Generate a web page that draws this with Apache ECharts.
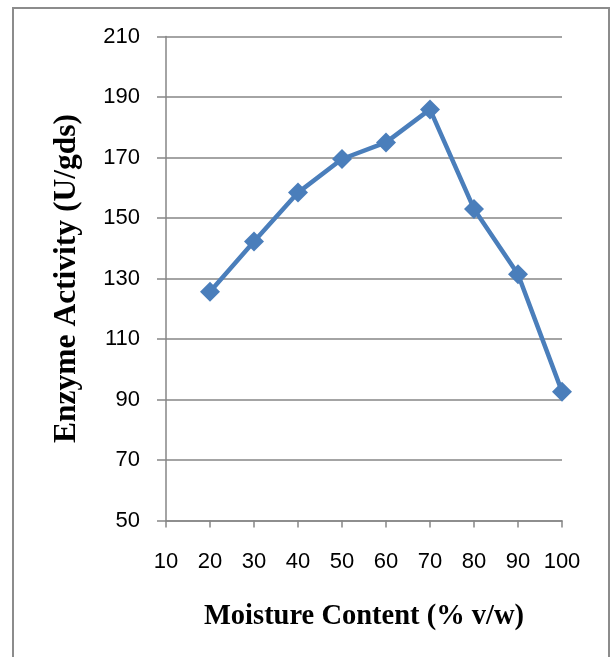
<!DOCTYPE html>
<html>
<head>
<meta charset="utf-8">
<script src="https://cdn.jsdelivr.net/npm/echarts@6/dist/echarts.min.js"></script>
<style>html,body{margin:0;padding:0;background:#fff}#c{width:612px;height:657px}</style>
</head>
<body>
<div id="c"></div>
<script>
const moisture = [20, 30, 40, 50, 60, 70, 80, 90, 100];
const activity = [125.6, 142.2, 158.4, 169.5, 175.0, 185.9, 153.0, 131.4, 92.6];
const xTitle = 'Moisture Content (% v/w)';
const yTitle = 'Enzyme Activity (U/gds)';

const chart = echarts.init(document.getElementById('c'), null, {renderer: 'canvas'});
chart.setOption({
  animation: false,
  backgroundColor: '#fff',
  graphic: [{
    type: 'rect', shape: {x: 13, y: 8, width: 596, height: 670},
    style: {fill: 'none', stroke: '#8c8c8c', lineWidth: 2}
  }],
  grid: {left: 166, right: 50, top: 36.5, bottom: 136.5},
  xAxis: {
    type: 'value', min: 10, max: 100, interval: 10,
    name: xTitle, nameLocation: 'middle', nameGap: 82,
    nameTextStyle: {fontFamily: 'Liberation Serif', fontWeight: 'bold', fontSize: 28.5, color: '#000'},
    axisLine: {lineStyle: {color: '#868686', width: 1.5}},
    axisTick: {show: true, length: 7, lineStyle: {color: '#868686', width: 1.5}},
    axisLabel: {fontFamily: 'Liberation Sans', fontSize: 22, color: '#000', margin: 30},
    splitLine: {show: false}
  },
  yAxis: {
    type: 'value', min: 50, max: 210, interval: 20,
    name: yTitle, nameLocation: 'middle', nameGap: 83, nameRotate: 90,
    nameTextStyle: {fontFamily: 'Liberation Serif', fontWeight: 'bold', fontSize: 31.5, color: '#000'},
    axisLine: {show: true, lineStyle: {color: '#868686', width: 1.5}},
    axisTick: {show: true, length: 9, lineStyle: {color: '#868686', width: 1.5}},
    axisLabel: {fontFamily: 'Liberation Sans', fontSize: 22, color: '#000', margin: 26},
    splitLine: {show: true, lineStyle: {color: '#868686', width: 1.5}}
  },
  series: [{
    type: 'line',
    data: moisture.map((m, i) => [m, activity[i]]),
    symbol: 'diamond', symbolSize: 20,
    lineStyle: {color: '#4a7ebb', width: 4.5},
    itemStyle: {color: '#4a7ebb'}
  }]
});
</script>
</body>
</html>
